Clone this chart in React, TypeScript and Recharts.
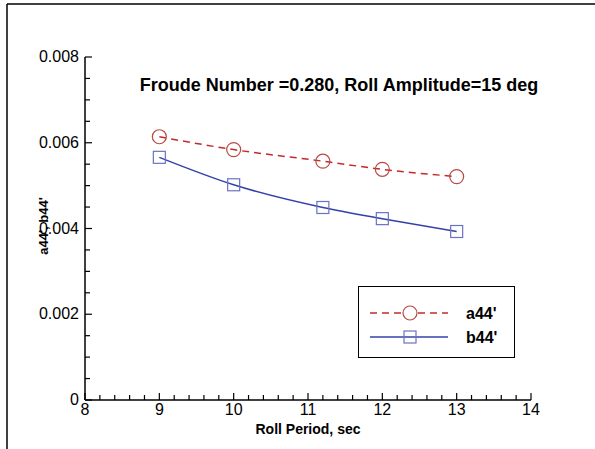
import { LineChart, Line, XAxis, YAxis, Customized } from 'recharts';

// Roll period (sec) and the two non-dimensional roll coefficients
const periods = [9, 10, 11.2, 12, 13];
const a44 = [0.00614, 0.00584, 0.00557, 0.00538, 0.00521];
const b44 = [0.00566, 0.00502, 0.00449, 0.00423, 0.00393];

const xMajor = [8, 9, 10, 11, 12, 13, 14];
const yMajor = [0, 0.002, 0.004, 0.006, 0.008];

const xTicks = xMajor.flatMap((v, i) =>
  i < xMajor.length - 1 ? [0, 1, 2, 3, 4].map((k) => Math.round((v + k * 0.2) * 10) / 10) : [v]
);
const yTicks = yMajor.flatMap((v, i) =>
  i < yMajor.length - 1 ? [0, 1, 2, 3].map((k) => Math.round((v + k * 0.0005) * 1e5) / 1e5) : [v]
);

const data = periods.map((p, i) => ({ period: p, a44: a44[i], b44: b44[i] }));

const RED = '#c42a2a';
const RED_MARK = '#b84a44';
const BLUE = '#3442a8';
const BLUE_MARK = '#6a72c6';
const FONT = '"Liberation Sans", Arial, sans-serif';

const isMajor = (list: number[], v: number) => list.some((m) => Math.abs(m - v) < 1e-9);

function XTick(props: any) {
  const { x, y, payload } = props;
  const major = isMajor(xMajor, payload.value);
  return (
    <g>
      <line x1={x} x2={x} y1={y} y2={y - (major ? 7 : 5)} stroke="#000" strokeWidth={1.2} />
      {major && (
        <text x={x} y={y + 15} textAnchor="middle" fontSize={16} fontFamily={FONT} fill="#000">
          {payload.value}
        </text>
      )}
    </g>
  );
}

function YTick(props: any) {
  const { x, y, payload } = props;
  const major = isMajor(yMajor, payload.value);
  return (
    <g>
      <line x1={x} x2={x + (major ? 7 : 5)} y1={y} y2={y} stroke="#000" strokeWidth={1.2} />
      {major && (
        <text x={x - 6} y={y + 5} textAnchor="end" fontSize={16} fontFamily={FONT} fill="#000">
          {payload.value}
        </text>
      )}
    </g>
  );
}

function Circle(props: any) {
  const { cx, cy } = props;
  return <circle cx={cx} cy={cy} r={7} fill="none" stroke={RED_MARK} strokeWidth={1.2} />;
}

function Square(props: any) {
  const { cx, cy } = props;
  return <rect x={cx - 6} y={cy - 6} width={12} height={12} fill="none" stroke={BLUE_MARK} strokeWidth={1.2} />;
}

function Decor() {
  return (
    <g fontFamily={FONT} fill="#000">
      <line x1={7} y1={4} x2={595} y2={4} stroke="#000" strokeWidth={1.5} />
      <line x1={7} y1={4} x2={7} y2={449} stroke="#000" strokeWidth={1.5} />
      <text x={339} y={91} textAnchor="middle" fontSize={18} fontWeight="bold">
        Froude Number =0.280, Roll Amplitude=15 deg
      </text>
      <text x={308} y={434} textAnchor="middle" fontSize={14} fontWeight="bold">
        Roll Period, sec
      </text>
      <text x={48} y={226} textAnchor="middle" fontSize={13} fontWeight="bold" transform="rotate(-90 48 226)">
        a44', b44'
      </text>
      {/* legend box */}
      <g transform="translate(358 286)">
        <rect x={0.5} y={0.5} width={156} height={71} fill="#fff" stroke="#000" strokeWidth={1} />
        <line x1={12} x2={90} y1={27} y2={27} stroke={RED} strokeWidth={1.5} strokeDasharray="7 5" />
        <circle cx={52} cy={27} r={7} fill="#fff" stroke={RED_MARK} strokeWidth={1.2} />
        <text x={108} y={33} fontSize={16} fontWeight="bold">a44'</text>
        <line x1={12} x2={90} y1={51} y2={51} stroke={BLUE} strokeWidth={1.5} />
        <rect x={46} y={45} width={12} height={12} fill="none" stroke={BLUE_MARK} strokeWidth={1.2} />
        <text x={108} y={57} fontSize={16} fontWeight="bold">b44'</text>
      </g>
    </g>
  );
}

export default function App() {
  return (
    <div style={{ position: 'absolute', left: 0, top: 0, background: '#fff' }}>
      <LineChart width={595} height={449} data={data} margin={{ top: 57, right: 64, bottom: 19, left: 45 }}>
        <XAxis
          dataKey="period"
          type="number"
          domain={[8, 14]}
          ticks={xTicks}
          interval={0}
          height={30}
          tickSize={0}
          tickMargin={0}
          tickLine={false}
          tick={<XTick />}
          axisLine={{ stroke: '#000', strokeWidth: 1.5 }}
        />
        <YAxis
          type="number"
          domain={[0, 0.008]}
          ticks={yTicks}
          interval={0}
          width={40}
          tickSize={0}
          tickMargin={0}
          tickLine={false}
          tick={<YTick />}
          axisLine={{ stroke: '#000', strokeWidth: 1.5 }}
        />
        <Line
          dataKey="a44"
          type="monotone"
          stroke={RED}
          strokeWidth={1.5}
          strokeDasharray="7 5"
          dot={<Circle />}
          activeDot={false}
          isAnimationActive={false}
        />
        <Line
          dataKey="b44"
          type="monotone"
          stroke={BLUE}
          strokeWidth={1.5}
          dot={<Square />}
          activeDot={false}
          isAnimationActive={false}
        />
        <Customized component={<Decor />} />
      </LineChart>
    </div>
  );
}
